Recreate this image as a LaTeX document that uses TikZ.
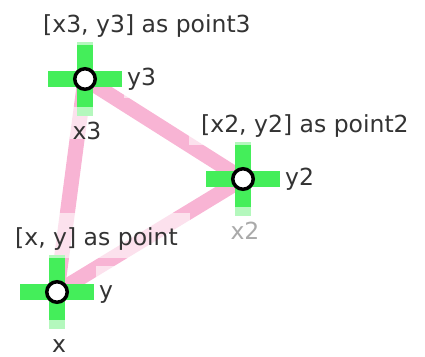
\documentclass[tikz,border=0pt]{standalone}
\usepackage{fontspec}
\setmainfont{DejaVu Sans}
\usetikzlibrary{positioning,calc}

\definecolor{crossgreen}{RGB}{68,238,90}
\definecolor{linkpink}{RGB}{248,180,212}
\definecolor{textdark}{RGB}{51,51,51}
\definecolor{textlight}{RGB}{170,170,170}

\begin{document}
\begin{tikzpicture}[x=1pt, y=-1pt,
  link/.style={draw=linkpink, line width=15pt},
  hbar/.style={rectangle, fill=crossgreen, minimum width=74pt, minimum height=16pt, inner sep=0pt},
  vbar/.style={rectangle, fill=crossgreen, minimum width=16pt, minimum height=74pt, inner sep=0pt},
  handle/.style={circle, draw=black, fill=white, line width=3.5pt, minimum size=20.5pt, inner sep=0pt},
  tag/.style={
    fill=white, fill opacity=0.6, text opacity=1, text=textdark,
    font=\fontsize{23.5}{28}\selectfont, text height=24pt, text depth=5pt,
    inner xsep=3pt, inner ysep=8pt
  },
  title/.style={tag, inner xsep=12pt, anchor=base west},
  ytag/.style={tag, anchor=base west},
  xtag/.style={tag, anchor=base, text height=32pt, text depth=0pt, inner ysep=0pt},
]
\useasboundingbox (0,0) rectangle (425,356);

\coordinate (point) at (57,292);
\coordinate (point2) at (243,179);
\coordinate (point3) at (85,79);

% triangle
\draw[link] (point) -- (point3);
\draw[link] (point3) -- (point2);
\draw[link] (point2) -- (point);

% crosses
\foreach \p in {point, point2, point3} {
  \node[hbar] (\p-h) at (\p) {};
  \node[vbar] (\p-v) at (\p) {};
  \node[handle] (\p-c) at (\p) {};
}

% labels
\node[title] (point3-name) at ($(point3)+(-54,-47)$) {[x3, y3] as point3};
\node[ytag] (point3-y) at ($(point3)+(39,6)$) {y3};
\node[xtag] (point3-x) at ($(point3)+(2,60)$) {x3};

\node[title] (point2-name) at ($(point2)+(-54,-47)$) {[x2, y2] as point2};
\node[ytag] (point2-y) at ($(point2)+(39,6)$) {y2};
\node[xtag, text=textlight] (point2-x) at ($(point2)+(2,60)$) {x2};

\node[title] (point-name) at ($(point)+(-54,-47)$) {[x, y] as point};
\node[ytag] (point-y) at ($(point)+(39,6)$) {y};
\node[xtag] (point-x) at ($(point)+(2,60)$) {x};

\end{tikzpicture}
\end{document}
